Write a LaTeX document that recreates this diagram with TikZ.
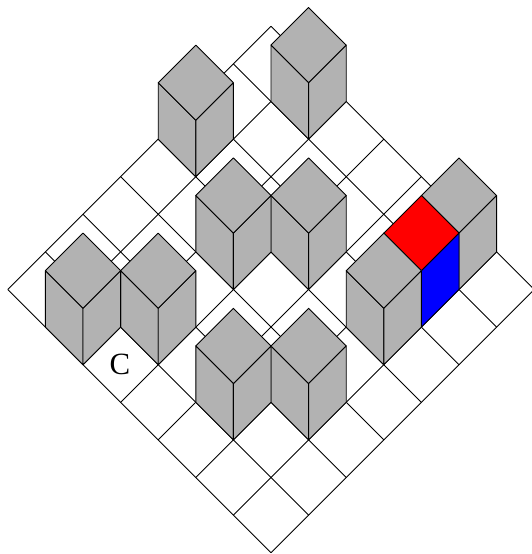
\documentclass[tikz,border=0pt]{standalone}
\usepackage{fontspec}
\setmainfont{Liberation Serif}
\definecolor{cubegray}{HTML}{B2B2B2}
\tikzset{
  gridline/.style={black,line width=0.9bp},
  face/.style={draw=black,line width=0.9bp,line join=round},
}
% \blockat{a}{b}{top colour}{right colour}: block standing on grid cell (a,b)
\newcommand{\blockat}[4]{%
  \fill[cubegray] (#1,#2,0)--(#1+1,#2,0)--(#1+1,#2+1,0)--(#1+1,#2+1,1)--(#1,#2+1,1)--(#1,#2,1)--cycle;
  \draw[face,fill=cubegray] (#1,#2,0)--(#1+1,#2,0)--(#1+1,#2,1)--(#1,#2,1)--cycle;
  \draw[face,fill=#4] (#1+1,#2,0)--(#1+1,#2+1,0)--(#1+1,#2+1,1)--(#1+1,#2,1)--cycle;
  \draw[face,fill=#3] (#1,#2,1)--(#1+1,#2,1)--(#1+1,#2+1,1)--(#1,#2+1,1)--cycle;
}
\begin{document}
\begin{tikzpicture}[x={(37.6bp,-37.6bp)},y={(37.6bp,37.6bp)},z={(0bp,56.4bp)},shift={(7.8bp,264.5bp)}]
\useasboundingbox (-7.8bp,-264.5bp) rectangle (524.2bp,289.5bp);
\begin{scope}
\clip (-7.8bp,-264.5bp) rectangle (524.2bp,289.5bp);
\foreach \k in {0,...,7}{
  \draw[gridline] (\k,0)--(\k,7);
  \draw[gridline] (0,\k)--(7,\k);
}
\end{scope}
\node[inner sep=0pt,xshift=-0.7bp,font=\fontsize{31}{31}\selectfont] (labelC) at (2.5,0.5) {C};
% back to front
\blockat{1}{6}{cubegray}{cubegray}
\blockat{0}{4}{cubegray}{cubegray}
\blockat{3}{4}{cubegray}{cubegray}
\blockat{2}{3}{cubegray}{cubegray}
\blockat{5}{6}{cubegray}{cubegray}
\blockat{5}{5}{red}{blue}
\blockat{5}{4}{cubegray}{cubegray}
\blockat{5}{2}{cubegray}{cubegray}
\blockat{4}{1}{cubegray}{cubegray}
\blockat{2}{1}{cubegray}{cubegray}
\blockat{1}{0}{cubegray}{cubegray}
\end{tikzpicture}
\end{document}
